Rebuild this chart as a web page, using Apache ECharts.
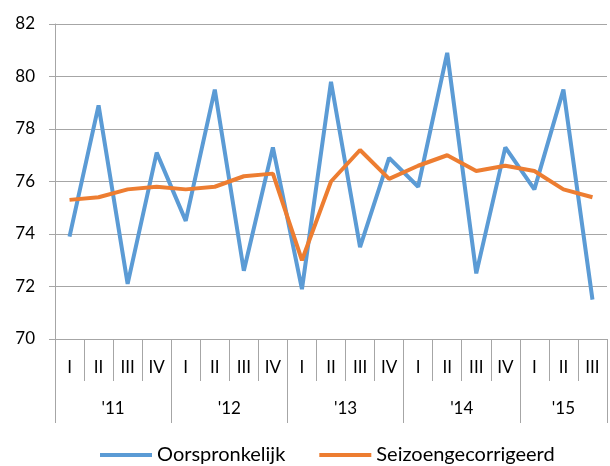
<!DOCTYPE html>
<html><head><meta charset="utf-8">
<script src="https://cdn.jsdelivr.net/npm/echarts@6/dist/echarts.min.js"></script>
<style>html,body{margin:0;padding:0;background:#fff}#c{width:610px;height:466px}</style>
</head><body><div id="c"></div>
<script>
var quarters = ['I','II','III','IV','I','II','III','IV','I','II','III','IV','I','II','III','IV','I','II','III'];
var years = ["'11","'12","'13","'14","'15"];
var quartersPerYear = [4,4,4,4,3];
var oorspronkelijk = [73.9,78.9,72.1,77.1, 74.5,79.5,72.6,77.3, 71.9,79.8,73.5,76.9, 75.8,80.9,72.5,77.3, 75.7,79.5,71.5];
var seizoen = [75.3,75.4,75.7,75.8, 75.7,75.8,76.2,76.3, 73.0,76.0,77.2,76.1, 76.6,77.0,76.4,76.6, 76.4,75.7,75.4];
var yTicks = {min:70, max:82, interval:2};

// Build half-quarter point axis for year labels and year separators
var nHalf = quarters.length * 2 + 1;
var yearCats = [];
for (var i = 0; i < nHalf; i++) yearCats.push('');
var boundaries = {0:true};
var pos = 0;
for (var y = 0; y < years.length; y++) {
  var center = pos + quartersPerYear[y];
  yearCats[center] = years[y];
  pos += quartersPerYear[y] * 2;
  boundaries[pos] = true;
}

var font = 'Lato, "Open Sans", sans-serif';
var chart = echarts.init(document.getElementById('c'), null, {renderer:'canvas'});
chart.setOption({
  animation: false,
  grid: {left: 55, right: 1, top: 24, bottom: 127, containLabel: false},
  legend: {
    bottom: -4, left: 95, itemWidth: 52, itemHeight: 4, itemGap: 34,
    icon: 'rect',
    textStyle: {fontFamily: font, fontSize: 20, color: '#000'},
    data: ['Oorspronkelijk', 'Seizoengecorrigeerd']
  },
  xAxis: [{
    type: 'category', data: quarters, boundaryGap: true, position: 'bottom',
    axisLine: {show: true, lineStyle: {color: '#A6A6A6', width: 1}},
    axisTick: {show: true, interval: 0, length: 42, alignWithLabel: false, lineStyle: {color: '#A6A6A6'}},
    axisLabel: {interval: 0, margin: 20, fontFamily: font, fontSize: 17, color: '#000'},
    splitLine: {show: false}
  }, {
    type: 'category', data: yearCats, boundaryGap: false, position: 'bottom',
    axisLine: {show: false},
    axisTick: {show: true, length: 84, lineStyle: {color: '#A6A6A6'},
      interval: function (idx) { return !!boundaries[idx]; }},
    axisLabel: {interval: 0, margin: 61, fontFamily: font, fontSize: 17, color: '#000'},
    splitLine: {show: false}
  }],
  yAxis: {
    type: 'value', min: yTicks.min, max: yTicks.max, interval: yTicks.interval,
    axisLine: {show: true, lineStyle: {color: '#A6A6A6'}},
    axisTick: {show: true, length: 6, lineStyle: {color: '#A6A6A6'}},
    axisLabel: {margin: 20, fontFamily: font, fontSize: 17, color: '#000'},
    splitLine: {show: true, lineStyle: {color: '#A6A6A6', width: 1}}
  },
  series: [{
    name: 'Oorspronkelijk', type: 'line', data: oorspronkelijk, xAxisIndex: 0,
    showSymbol: false, symbol: 'none', lineStyle: {color: '#5B9BD5', width: 4}, itemStyle: {color: '#5B9BD5'}
  }, {
    name: 'Seizoengecorrigeerd', type: 'line', data: seizoen, xAxisIndex: 0,
    showSymbol: false, symbol: 'none', lineStyle: {color: '#ED7D31', width: 4}, itemStyle: {color: '#ED7D31'}
  }]
});
</script></body></html>
